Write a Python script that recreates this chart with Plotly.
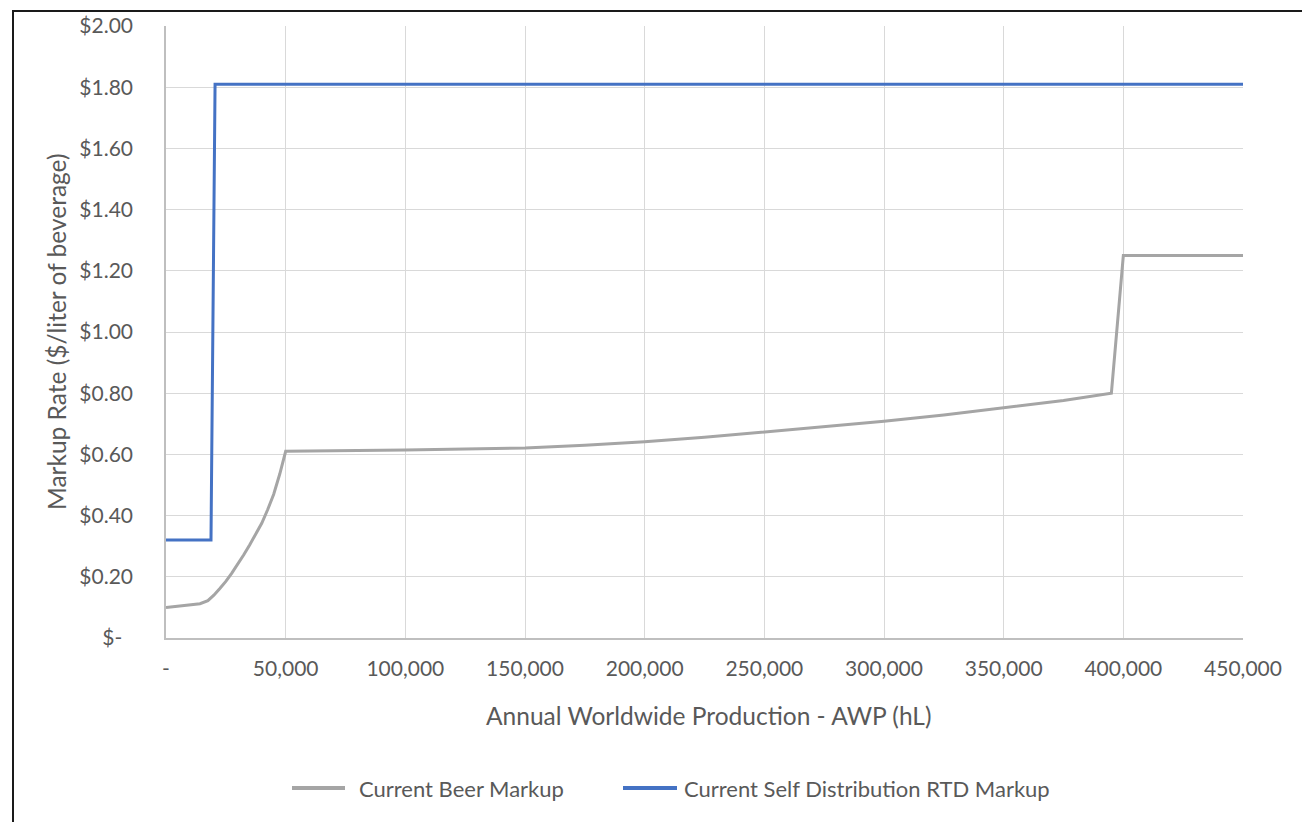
import plotly.graph_objects as go

# Annual worldwide production (hL) and markup rates ($/L)
beer_awp = [0, 14200, 17500, 20000, 22500, 25000, 27500, 30000, 32500, 35000,
            37500, 40000, 42500, 45000, 47500, 50000,
            100000, 150000, 175000, 200000, 225000, 250000, 275000, 300000,
            325000, 350000, 375000, 395000, 400000, 450000]
beer_markup = [0.10, 0.112, 0.122, 0.14, 0.162, 0.185, 0.212, 0.24, 0.272, 0.305,
               0.34, 0.375, 0.42, 0.47, 0.535, 0.61,
               0.614, 0.621, 0.630, 0.641, 0.656, 0.673, 0.690, 0.708,
               0.729, 0.752, 0.776, 0.80, 1.25, 1.25]

rtd_awp = [0, 18800, 20500, 450000]
rtd_markup = [0.32, 0.32, 1.81, 1.81]

x_ticks = [0, 50000, 100000, 150000, 200000, 250000, 300000, 350000, 400000, 450000]
x_tick_labels = ["-", "50,000", "100,000", "150,000", "200,000", "250,000",
                 "300,000", "350,000", "400,000", "450,000"]
y_ticks = [0, 0.2, 0.4, 0.6, 0.8, 1.0, 1.2, 1.4, 1.6, 1.8, 2.0]
y_tick_labels = ["$-\u00a0\u00a0", "$0.20", "$0.40", "$0.60", "$0.80", "$1.00",
                 "$1.20", "$1.40", "$1.60", "$1.80", "$2.00"]

series_names = ["Current Beer Markup", "Current Self Distribution RTD Markup"]
series_colors = ["#A5A5A5", "#4472C4"]

W, H = 1302, 822
ML, MR, MT, MB = 166, 59, 26, 184
PW, PH = W - ML - MR, H - MT - MB
FONT = "Lato"
TXT = "#595959"


def px(x):
    return (x - ML) / PW


def py(y):
    return (H - MB - y) / PH


fig = go.Figure()
fig.add_trace(go.Scatter(x=beer_awp, y=beer_markup, mode="lines",
                         name=series_names[0],
                         line=dict(color=series_colors[0], width=3)))
fig.add_trace(go.Scatter(x=rtd_awp, y=rtd_markup, mode="lines",
                         name=series_names[1],
                         line=dict(color=series_colors[1], width=3)))

shapes = [
    # outer chart frame
    dict(type="rect", xref="paper", yref="paper",
         x0=px(13), x1=px(1320), y0=py(11), y1=py(840),
         line=dict(color="#1a1a1a", width=2), layer="above"),
]
annotations = [
    dict(text="Annual Worldwide Production - AWP (hL)", xref="paper", yref="paper",
         x=px(708), y=py(715), showarrow=False, xanchor="center", yanchor="middle",
         font=dict(family=FONT, size=24.5, color=TXT)),
    dict(text="Markup Rate ($/liter of beverage)", xref="paper", yref="paper",
         x=px(56), y=0.5, showarrow=False, textangle=-90,
         xanchor="center", yanchor="middle",
         font=dict(family=FONT, size=24.5, color=TXT)),
]

# legend entries along the bottom
legend_items = [(292, 345, 357), (623, 677, 682)]
for (s0, s1, tx), name, color in zip(legend_items, series_names, series_colors):
    shapes.append(dict(type="line", xref="paper", yref="paper",
                       x0=px(s0), x1=px(s1), y0=py(788), y1=py(788),
                       line=dict(color=color, width=4)))
    annotations.append(dict(text=name, xref="paper", yref="paper",
                            x=px(tx), y=py(788), showarrow=False,
                            xanchor="left", yanchor="middle",
                            font=dict(family=FONT, size=22, color=TXT)))

fig.update_layout(
    width=W, height=H,
    margin=dict(l=ML, r=MR, t=MT, b=MB, autoexpand=False),
    paper_bgcolor="white", plot_bgcolor="white",
    showlegend=False,
    font=dict(family=FONT, size=21, color=TXT),
    shapes=shapes, annotations=annotations,
    xaxis=dict(range=[0, 450000], tickvals=x_ticks, ticktext=x_tick_labels,
               showgrid=True, gridcolor="#D9D9D9", gridwidth=1.3,
               showline=True, linecolor="#BFBFBF", linewidth=1.5,
               zeroline=False, ticks="", ticklabelstandoff=11,
               tickfont=dict(family=FONT, size=21, color=TXT)),
    yaxis=dict(range=[0, 2.0], tickvals=y_ticks, ticktext=y_tick_labels,
               showgrid=True, gridcolor="#D9D9D9", gridwidth=1.3,
               showline=True, linecolor="#BFBFBF", linewidth=1.5,
               zeroline=False, ticks="", ticklabelstandoff=27,
               tickfont=dict(family=FONT, size=21, color=TXT)),
)

fig.write_html("out.html")
